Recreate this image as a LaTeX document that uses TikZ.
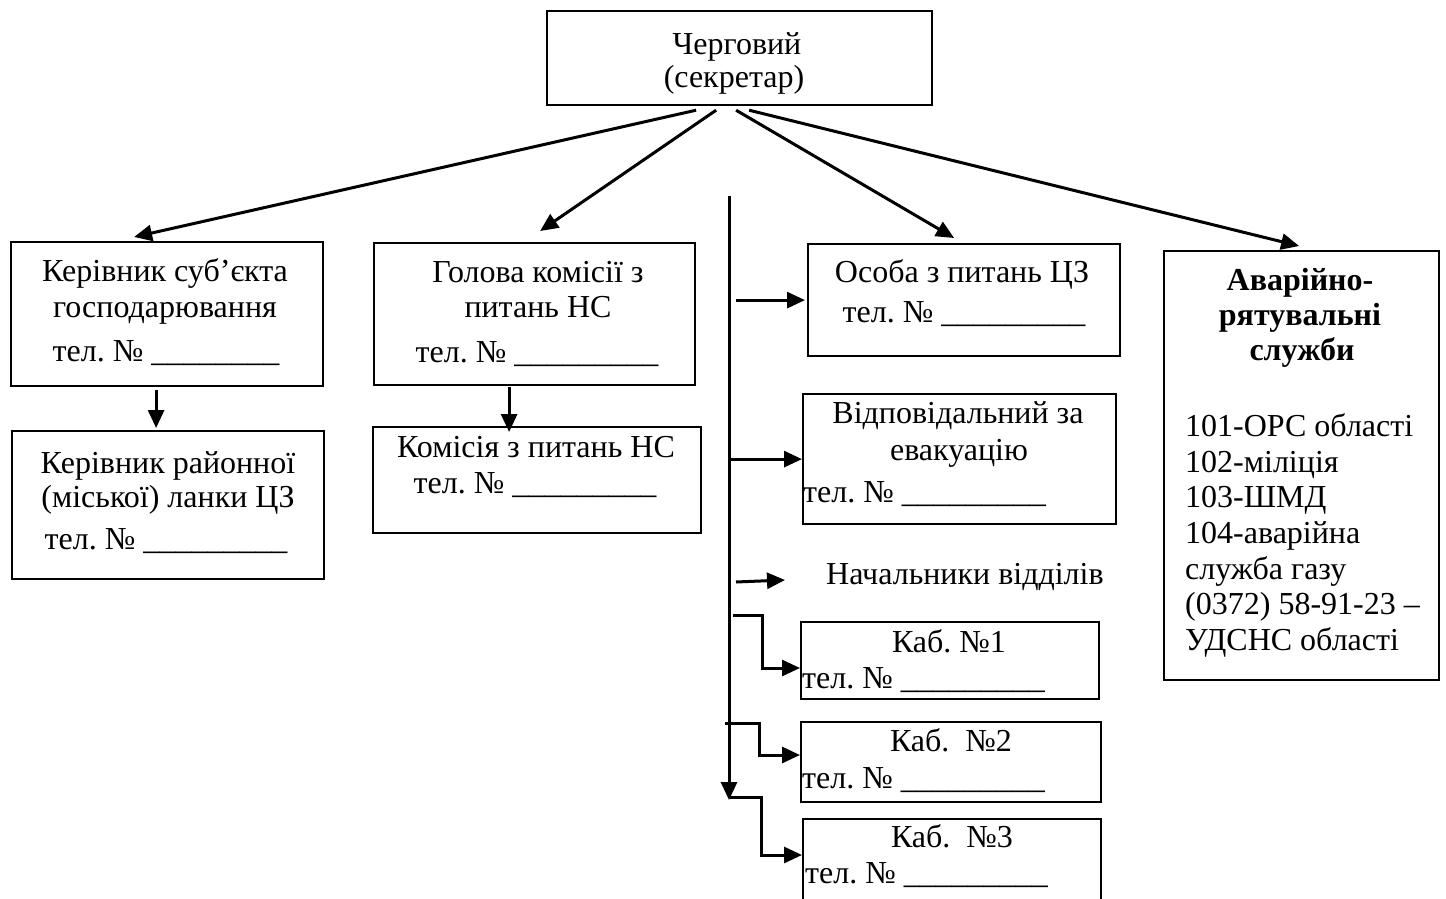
\documentclass[tikz,border=0pt]{standalone}
\usepackage{fontspec}
\setmainfont{Liberation Serif}
\usetikzlibrary{arrows.meta}
\frenchspacing
\begin{document}
\begin{tikzpicture}[x=1pt,y=-1pt,
  box/.style={draw, line width=2.2pt, inner sep=0pt, anchor=north west},
  txt/.style={font=\fontsize{32}{36}\selectfont\frenchspacing, inner sep=0pt, anchor=base},
  txtl/.style={txt, anchor=base west},
  btxt/.style={txt, font=\fontsize{32}{36}\selectfont\bfseries},
  arr/.style={line width=3pt, -{Triangle[length=18pt,width=16pt]}}]
\useasboundingbox (0,0) rectangle (1446,899);
\clip (0,0) rectangle (1446,899);
% boxes
\node[box, minimum width=385pt, minimum height=94pt] (top) at (546,10) {};
\node[box, minimum width=312pt, minimum height=144pt] (k1) at (10,241) {};
\node[box, minimum width=312pt, minimum height=148pt] (k2) at (11,430) {};
\node[box, minimum width=321pt, minimum height=142pt] (g1) at (373,242) {};
\node[box, minimum width=328pt, minimum height=106pt] (km) at (372,426) {};
\node[box, minimum width=312pt, minimum height=112pt] (os) at (807,243) {};
\node[box, minimum width=313pt, minimum height=130pt] (vd) at (802,393) {};
\node[box, minimum width=298pt, minimum height=77pt] (kb1) at (800,621) {};
\node[box, minimum width=300pt, minimum height=80pt] (kb2) at (800,721) {};
\node[box, minimum width=298pt, minimum height=120pt] (kb3) at (802,818) {};
\node[box, minimum width=275pt, minimum height=429pt] (av) at (1163,250) {};
% texts
\node[txt] (t1a) at (737,55) {Черговий};
\node[txt] (t1b) at (734,88) {(секретар)};
\node[txt] (k1a) at (165,281) {Керівник суб’єкта};
\node[txt] (k1b) at (165,317) {господарювання};
\node[txt] (k1c) at (166,361) {тел. № \_\_\_\_\_\_\_\_};
\node[txt] (k2a) at (168,473) {Керівник районної};
\node[txt] (k2b) at (168,507) {(міської) ланки ЦЗ};
\node[txt] (k2c) at (166,549) {тел. № \_\_\_\_\_\_\_\_\_};
\node[txt] (g1a) at (538,282) {Голова комісії з};
\node[txt] (g1b) at (538,317) {питань НС};
\node[txt] (g1c) at (537,362) {тел. № \_\_\_\_\_\_\_\_\_};
\node[txt] (kma) at (536,457) {Комісія з питань НС};
\node[txt] (kmb) at (535,493) {тел. № \_\_\_\_\_\_\_\_\_};
\node[txt] (osa) at (962,282) {Особа з питань ЦЗ};
\node[txt] (osb) at (964,322) {тел. № \_\_\_\_\_\_\_\_\_};
\node[txt] (vda) at (958,423) {Відповідальний за};
\node[txt] (vdb) at (959,460) {евакуацію};
\node[txtl] (vdc) at (803,502) {тел. № \_\_\_\_\_\_\_\_\_};
\node[txtl] (nach) at (826,584) {Начальники відділів};
\node[txt] (kb1a) at (949,652) {Каб. №1};
\node[txtl] (kb1b) at (802,688) {тел. № \_\_\_\_\_\_\_\_\_};
\node[txt] (kb2a) at (951,751) {Каб.\ \ №2};
\node[txtl] (kb2b) at (802,788) {тел. № \_\_\_\_\_\_\_\_\_};
\node[txt] (kb3a) at (952,847) {Каб.\ \ №3};
\node[txtl] (kb3b) at (805,883) {тел. № \_\_\_\_\_\_\_\_\_};
\node[btxt] (ava) at (1300,290) {Аварійно-};
\node[btxt] (avb) at (1300,325) {рятувальні};
\node[btxt] (avc) at (1302,360) {служби};
\node[txtl] (av1) at (1185,436) {101-ОРС області};
\node[txtl] (av2) at (1185,472) {102-міліція};
\node[txtl] (av3) at (1185,507) {103-ШМД};
\node[txtl] (av4) at (1185,543) {104-аварійна};
\node[txtl] (av5) at (1185,579) {служба газу};
\node[txtl] (av6) at (1185,614) {(0372) 58-91-23 –};
\node[txtl] (av7) at (1185,650) {УДСНС області};
% connectors from top
\draw[arr] ([xshift=-43.5pt,yshift=-4pt]top.south) -- ([xshift=-33pt,yshift=4pt]k1.north);
\draw[arr] ([xshift=-23.5pt,yshift=-4pt]top.south) -- ([xshift=5.5pt,yshift=11pt]g1.north);
\draw[arr] ([xshift=-3.5pt,yshift=-4pt]top.south) -- ([xshift=-10pt,yshift=5pt]os.north);
\draw[arr] ([xshift=9.5pt,yshift=-4pt]top.south) -- ([xshift=-2.5pt,yshift=4pt]av.north);
% vertical downs
\draw[arr] ([xshift=-11pt,yshift=-3pt]k1.south) -- ([xshift=-12pt,yshift=2pt]k2.north);
\draw[arr] ([xshift=-25.5pt,yshift=-1pt]g1.south) -- ([xshift=-28pt,yshift=-6pt]km.north);
% bus
\coordinate (busT) at (729,196);
\coordinate (busB) at (729,800);
\draw[arr] (busT) -- (busB);
\draw[arr] ([xshift=7pt]busT |- os.west) -- ([xshift=-2pt]os.west);
\draw[arr] ([xshift=2pt]busT |- vd.west) -- (vd.west);
\draw[arr] ([xshift=7pt,yshift=-386pt]busT) -- ([xshift=-41pt,yshift=4pt]nach.base west);
\draw[arr] ([xshift=4pt,yshift=-419pt]busT) -| ([xshift=-38pt,yshift=-47pt]kb1.north west) -- ([yshift=-47pt]kb1.north west);
\draw[arr] ([xshift=-4pt,yshift=-527pt]busT) -| ([xshift=-41pt,yshift=-34pt]kb2.north west) -- ([yshift=-34pt]kb2.north west);
\draw[arr] ([xshift=1pt,yshift=-601pt]busT) -| ([xshift=-41pt,yshift=-37pt]kb3.north west) -- ([yshift=-37pt]kb3.north west);
\end{tikzpicture}
\end{document}
